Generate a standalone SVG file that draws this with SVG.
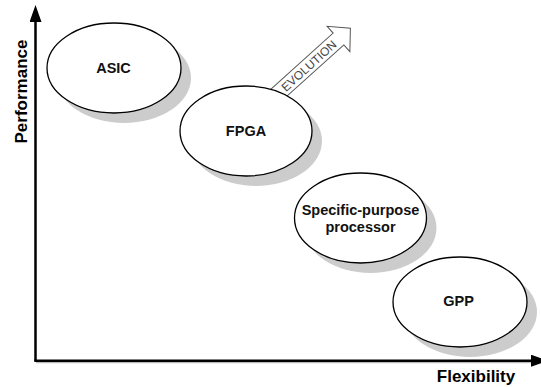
<svg xmlns="http://www.w3.org/2000/svg" width="541" height="387" viewBox="0 0 541 387">
  <style>
    .shadow { fill: #cccccc; stroke: none; }
    .node { fill: #ffffff; stroke: #000000; stroke-width: 1.3; }
    .label { font-family: "Liberation Sans", Arial, sans-serif; font-weight: bold; font-size: 14.5px; fill: #111111; text-anchor: middle; }
    .axis { stroke: #000000; stroke-width: 2.5; fill: none; }
    .axis-title { font-family: "Liberation Sans", Arial, sans-serif; font-weight: bold; font-size: 17px; fill: #000000; text-anchor: middle; }
    .evo { fill: #ffffff; stroke: #555555; stroke-width: 1; }
    .evo-text { font-family: "Liberation Sans", Arial, sans-serif; font-size: 12px; fill: #444444; text-anchor: middle; }
  </style>
  <defs>
    <marker id="axisHead" markerUnits="userSpaceOnUse" markerWidth="18" markerHeight="12" refX="0" refY="6" orient="auto" viewBox="0 0 18 12">
      <path d="M0,0 L17,6 L0,12 Z" fill="#000000"/>
    </marker>
  </defs>

  <!-- axes -->
  <g id="connectors">
    <line x1="36" y1="362.5" x2="531" y2="362.5" stroke="#bbbbbb" stroke-width="1.5"/>
    <line class="axis" x1="35.5" y1="361" x2="35.5" y2="22" marker-end="url(#axisHead)"/>
    <line class="axis" x1="34.3" y1="360.7" x2="531" y2="360.7" marker-end="url(#axisHead)"/>
    <!-- evolution arrow -->
    <g id="evolution" transform="translate(338.5,39) rotate(-42)">
      <polygon class="evo" points="-90,-8 0,-8 0,-17 16,0 0,17 0,8 -90,8"/>
      <text class="evo-text" x="-40" y="4.3">EVOLUTION</text>
    </g>
  </g>

  <text class="axis-title" transform="translate(27,91.5) rotate(-90)">Performance</text>
  <text class="axis-title" x="476" y="382">Flexibility</text>

  <g id="asic">
    <ellipse class="shadow" cx="124" cy="78" rx="67" ry="45"/>
    <ellipse class="node" cx="114" cy="68" rx="67" ry="45"/>
    <text class="label" x="113.5" y="73">ASIC</text>
  </g>

  <g id="fpga">
    <ellipse class="shadow" cx="256" cy="141" rx="66" ry="45"/>
    <ellipse class="node" cx="246" cy="131" rx="66" ry="45"/>
    <text class="label" x="246" y="135.5">FPGA</text>
  </g>

  <g id="specific-purpose">
    <ellipse class="shadow" cx="370.5" cy="228" rx="66" ry="45"/>
    <ellipse class="node" cx="360.5" cy="218" rx="66" ry="45"/>
    <text class="label" x="360.5" y="215">Specific-purpose</text>
    <text class="label" x="360.5" y="232">processor</text>
  </g>

  <g id="gpp">
    <ellipse class="shadow" cx="470" cy="312" rx="67" ry="45"/>
    <ellipse class="node" cx="460" cy="302" rx="67" ry="45"/>
    <text class="label" x="458.5" y="305.5">GPP</text>
  </g>
</svg>
